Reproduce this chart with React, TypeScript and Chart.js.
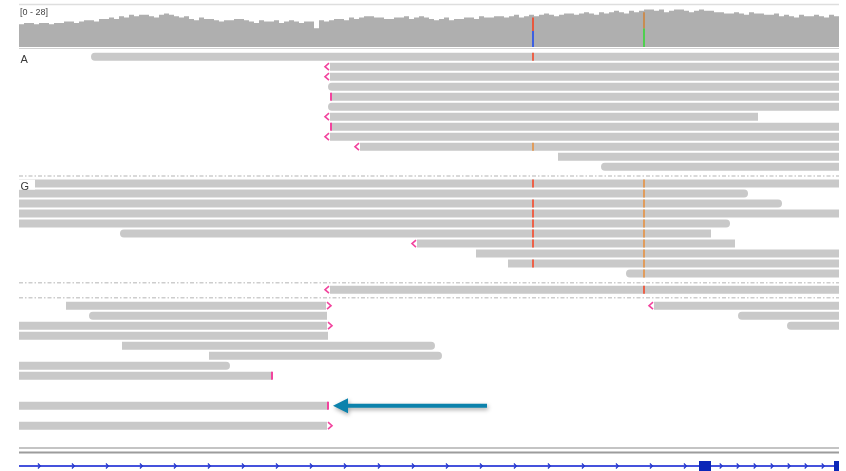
import React, { useEffect, useRef } from 'react';
import { Chart, registerables } from 'chart.js';

Chart.register(...registerables);

type Read = [number, number, number, string]; // row, start, end, rounded ends ('l' / 'r')
type Clip = [number, number, string]; // row, position, marker ('<' before, '>' after, '|' at)
type Mismatch = [number, number, string]; // row, position, base

// Coverage depth per 5 bp bin, from position 0
const coverageBin = 5;
const coverageDepth = [
  17, 18, 18, 17, 18, 18, 17, 18, 18, 19, 19, 18, 19, 20, 20, 19, 21, 21, 22, 21,
  23, 22, 24, 23, 24, 24, 23, 22, 24, 25, 24, 23, 22, 23, 21, 20, 22, 21, 21, 20,
  19, 20, 20, 21, 21, 20, 19, 18, 20, 19, 19, 20, 18, 19, 20, 19, 18, 19, 19, 14,
  20, 19, 20, 21, 21, 20, 22, 21, 22, 23, 23, 22, 22, 21, 21, 22, 22, 23, 21, 22,
  23, 22, 21, 20, 21, 22, 20, 21, 21, 22, 22, 21, 23, 22, 22, 23, 23, 22, 23, 24,
  22, 23, 24, 23, 24, 25, 24, 23, 24, 25, 25, 24, 25, 26, 25, 24, 26, 25, 26, 27,
  26, 25, 27, 26, 27, 28, 28, 27, 28, 26, 27, 28, 28, 27, 26, 27, 28, 27, 27, 26,
  26, 25, 25, 26, 25, 24, 26, 25, 25, 24, 24, 25, 23, 24, 23, 22, 24, 23, 23, 24,
  23, 22, 24, 23,
];
const coverageRange = '[0 - 28]';

// Allele counts at the two variant sites
const alleleCounts: [number, string, number][] = [
  [514, 'C', 12], [514, 'T', 10],
  [625, 'A', 14], [625, 'G', 12],
];

const readsA: Read[] = [
  [0, 72, 820, 'l'], [1, 311, 820, ''], [2, 311, 820, ''], [3, 309, 820, 'l'],
  [4, 312, 820, ''], [5, 309, 820, 'l'], [6, 311, 739, ''], [7, 312, 820, ''],
  [8, 311, 820, ''], [9, 341, 820, ''], [10, 539, 820, ''], [11, 582, 820, 'l'],
];
const clipsA: Clip[] = [[1, 311, '<'], [2, 311, '<'], [4, 312, '|'], [6, 311, '<'], [7, 312, '|'], [8, 311, '<'], [9, 341, '<']];
const mismatchesA: Mismatch[] = [[0, 514, 'T'], [9, 514, 'G']];

const readsG: Read[] = [
  [0, 0, 820, ''], [1, 0, 729, 'r'], [2, 0, 763, 'r'], [3, 0, 820, ''], [4, 0, 711, 'r'],
  [5, 101, 692, 'l'], [6, 398, 716, ''], [7, 457, 820, ''], [8, 489, 820, ''], [9, 607, 820, 'l'],
];
const clipsG: Clip[] = [[6, 398, '<']];
const mismatchesG: Mismatch[] = [
  [0, 514, 'T'], [2, 514, 'T'], [3, 514, 'T'], [4, 514, 'T'], [5, 514, 'T'], [6, 514, 'T'], [8, 514, 'T'],
  [0, 625, 'G'], [1, 625, 'G'], [2, 625, 'G'], [3, 625, 'G'], [4, 625, 'G'],
  [5, 625, 'G'], [6, 625, 'G'], [7, 625, 'G'], [8, 625, 'G'], [9, 625, 'G'],
];

const readsM: Read[] = [[0, 311, 820, '']];
const clipsM: Clip[] = [[0, 311, '<']];
const mismatchesM: Mismatch[] = [[0, 625, 'T']];

const readsC: Read[] = [
  [0, 47, 307, ''], [0, 635, 820, ''], [1, 70, 308, 'l'], [1, 719, 820, 'l'],
  [2, 0, 308, ''], [2, 768, 820, 'l'], [3, 0, 309, ''], [4, 103, 416, 'r'],
  [5, 190, 423, 'r'], [6, 0, 211, 'r'], [7, 0, 253, ''], [10, 0, 309, ''], [12, 0, 308, ''],
];
const clipsC: Clip[] = [[0, 307, '>'], [0, 635, '<'], [2, 308, '>'], [7, 253, '|'], [10, 309, '|'], [12, 308, '>']];
const mismatchesC: Mismatch[] = [];

// Gene model: exons and introns (with strand-arrow spacing)
const geneExons: [number, number][] = [[680, 692], [815, 826]];
const geneIntrons: [number, number, number][] = [[0, 680, 34], [692, 815, 17]];

// Callout pointing at the clipped read end
const callout = { group: 'C', row: 10, tip: 314, tail: 468 };

const groups = [
  { key: 'A', label: 'A', reads: readsA, clips: clipsA, mismatches: mismatchesA },
  { key: 'G', label: 'G', reads: readsG, clips: clipsG, mismatches: mismatchesG },
  { key: 'M', label: '', reads: readsM, clips: clipsM, mismatches: mismatchesM },
  { key: 'C', label: '', reads: readsC, clips: clipsC, mismatches: mismatchesC },
];

// Track layout, in read-row units
const groupTop: Record<string, number> = { A: 5.67, G: 18.36, M: 28.97, C: 30.57 };
const separators = [17.6, 28.27, 29.77];
const rulers = [44.8, 45.25];
const geneRow = 46.6;
const VIEW_END = 820;

const FONT = '"Liberation Sans", Arial, sans-serif';
const READ_GRAY = '#c9c9c9';
const COVER_GRAY = '#afafaf';
const CLIP_PINK = '#f2449e';
const baseColors: Record<string, string> = { A: '#4fcf4f', C: '#3d5fe0', G: '#c98c52', T: '#e8583e' };
const readBaseColors: Record<string, string> = { A: '#5fd45f', C: '#5070e0', G: '#e09c5c', T: '#ec6148' };

const decor = {
  id: 'alignmentDecor',
  beforeDatasetsDraw(chart: any) {
    const { ctx, chartArea: a, scales } = chart;
    const base = scales.yCov.getPixelForValue(0);
    ctx.save();
    ctx.strokeStyle = '#dedede';
    ctx.lineWidth = 1.5;
    ctx.beginPath();
    ctx.moveTo(a.left, 4.5);
    ctx.lineTo(a.right, 4.5);
    ctx.stroke();
    ctx.strokeStyle = '#d2d2d2';
    ctx.lineWidth = 1;
    ctx.beginPath();
    ctx.moveTo(a.left, Math.round(base) + 1.5);
    ctx.lineTo(a.right, Math.round(base) + 1.5);
    ctx.stroke();
    ctx.restore();
  },
  afterDatasetsDraw(chart: any) {
    const { ctx, chartArea: a, scales } = chart;
    const x = scales.x;
    const y = scales.y;
    ctx.save();

    // group separators
    ctx.strokeStyle = '#cdcdcd';
    ctx.lineWidth = 1.5;
    ctx.setLineDash([4, 2, 1.5, 2]);
    separators.forEach((s) => {
      const py = y.getPixelForValue(s);
      ctx.beginPath();
      ctx.moveTo(a.left, py);
      ctx.lineTo(a.right, py);
      ctx.stroke();
    });
    ctx.setLineDash([]);

    // soft-clip markers
    ctx.strokeStyle = CLIP_PINK;
    ctx.fillStyle = CLIP_PINK;
    ctx.lineWidth = 1.6;
    groups.forEach((g) => {
      g.clips.forEach(([row, pos, kind]) => {
        const px = x.getPixelForValue(pos);
        const py = y.getPixelForValue(groupTop[g.key] + row);
        if (kind === '|') {
          ctx.fillRect(px - 1, py - 4, 2, 8);
        } else {
          const d = kind === '<' ? -1 : 1;
          ctx.beginPath();
          ctx.moveTo(px + d * 1, py - 3.5);
          ctx.lineTo(px + d * 5, py);
          ctx.lineTo(px + d * 1, py + 3.5);
          ctx.stroke();
        }
      });
    });

    // group labels
    ctx.font = `11px ${FONT}`;
    ctx.textBaseline = 'middle';
    groups.forEach((g) => {
      if (!g.label) return;
      const py = y.getPixelForValue(groupTop[g.key]);
      ctx.fillStyle = '#ffffff';
      ctx.fillRect(a.left, py - 4, 16, 10);
      ctx.fillStyle = '#3a3a3a';
      ctx.fillText(g.label, a.left + 1.5, py + 3);
    });

    // coverage range
    ctx.font = `9px ${FONT}`;
    ctx.fillStyle = '#444444';
    ctx.fillText(coverageRange, a.left + 1, 12.5);

    // rulers above the gene track
    rulers.forEach((r, i) => {
      const py = y.getPixelForValue(r);
      ctx.strokeStyle = i === 0 ? '#8a8a8a' : '#9c9c9c';
      ctx.lineWidth = i === 0 ? 1.2 : 2;
      ctx.beginPath();
      ctx.moveTo(a.left, py);
      ctx.lineTo(a.right, py);
      ctx.stroke();
    });

    // strand arrows along introns
    const gy = y.getPixelForValue(geneRow);
    ctx.strokeStyle = '#2436cc';
    ctx.lineWidth = 1.2;
    geneIntrons.forEach(([s, e, step]) => {
      for (let p = s + step * 0.6; p < e - 2; p += step) {
        const px = x.getPixelForValue(p);
        ctx.beginPath();
        ctx.moveTo(px - 1.5, gy - 2.5);
        ctx.lineTo(px + 1, gy);
        ctx.lineTo(px - 1.5, gy + 2.5);
        ctx.stroke();
      }
    });

    // callout arrow
    const ay = y.getPixelForValue(groupTop[callout.group] + callout.row);
    const tip = x.getPixelForValue(callout.tip);
    const tail = x.getPixelForValue(callout.tail);
    ctx.shadowColor = 'rgba(0,0,0,0.35)';
    ctx.shadowBlur = 4;
    ctx.shadowOffsetX = 1;
    ctx.shadowOffsetY = 2;
    ctx.fillStyle = '#0c82ac';
    ctx.beginPath();
    ctx.moveTo(tip, ay);
    ctx.lineTo(tip + 15, ay - 7.5);
    ctx.lineTo(tip + 15, ay - 2);
    ctx.lineTo(tail, ay - 2);
    ctx.lineTo(tail, ay + 2);
    ctx.lineTo(tip + 15, ay + 2);
    ctx.lineTo(tip + 15, ay + 7.5);
    ctx.closePath();
    ctx.fill();

    ctx.restore();
  },
};

export default function App() {
  const canvasRef = useRef<HTMLCanvasElement | null>(null);

  useEffect(() => {
    const canvas = canvasRef.current;
    if (!canvas) return;

    const coveragePoints = coverageDepth.map((v, i) => ({ x: i * coverageBin, y: v }));
    coveragePoints.push({ x: coverageDepth.length * coverageBin, y: coverageDepth[coverageDepth.length - 1] });

    const cum: Record<number, number> = {};
    const alleleBars = alleleCounts.map(([pos, base, n]) => {
      const from = cum[pos] || 0;
      cum[pos] = from + n;
      return { x: pos, y: [from, from + n], base };
    });

    const readBars = groups.flatMap((g) =>
      g.reads.map(([row, s, e, ends]) => ({ x: [s, e], y: groupTop[g.key] + row, ends }))
    );
    const mismatchBars = groups.flatMap((g) =>
      g.mismatches.map(([row, pos, base]) => ({ x: [pos - 1, pos + 1], y: groupTop[g.key] + row, base }))
    );

    const chart = new Chart(canvas, {
      type: 'bar',
      data: {
        datasets: [
          {
            type: 'line',
            indexAxis: 'x',
            xAxisID: 'x',
            yAxisID: 'yCov',
            data: coveragePoints,
            stepped: 'before',
            fill: 'origin',
            backgroundColor: COVER_GRAY,
            borderWidth: 0,
            pointRadius: 0,
            order: 6,
          } as any,
          {
            type: 'bar',
            indexAxis: 'x',
            xAxisID: 'x',
            yAxisID: 'yCov',
            data: alleleBars,
            grouped: false,
            barThickness: 2,
            inflateAmount: 0,
            borderSkipped: false,
            backgroundColor: (c: any) => baseColors[c.raw?.base] || COVER_GRAY,
            order: 5,
          } as any,
          {
            type: 'bar',
            indexAxis: 'y',
            xAxisID: 'x',
            yAxisID: 'y',
            data: readBars,
            grouped: false,
            barThickness: 8,
            inflateAmount: 0,
            borderSkipped: false,
            backgroundColor: READ_GRAY,
            borderRadius: (c: any) => {
              const e: string = c.raw?.ends || '';
              const l = e.includes('l') ? 4 : 0;
              const r = e.includes('r') ? 4 : 0;
              return { topLeft: l, bottomLeft: l, topRight: r, bottomRight: r };
            },
            order: 4,
          } as any,
          {
            type: 'bar',
            indexAxis: 'y',
            xAxisID: 'x',
            yAxisID: 'y',
            data: mismatchBars,
            grouped: false,
            barThickness: 8,
            inflateAmount: 0,
            borderSkipped: false,
            backgroundColor: (c: any) => readBaseColors[c.raw?.base] || READ_GRAY,
            order: 1,
          } as any,
          {
            type: 'bar',
            indexAxis: 'y',
            xAxisID: 'x',
            yAxisID: 'y',
            data: [{ x: [0, VIEW_END], y: geneRow }],
            grouped: false,
            barThickness: 2,
            inflateAmount: 0,
            borderSkipped: false,
            backgroundColor: '#4552dc',
            order: 3,
          } as any,
          {
            type: 'bar',
            indexAxis: 'y',
            xAxisID: 'x',
            yAxisID: 'y',
            data: geneExons.map(([s, e]) => ({ x: [s, e], y: geneRow })),
            grouped: false,
            barThickness: 10,
            inflateAmount: 0,
            borderSkipped: false,
            backgroundColor: '#0b27b8',
            order: 2,
          } as any,
        ],
      },
      options: {
        indexAxis: 'y',
        responsive: false,
        animation: false,
        events: [],
        layout: { padding: { left: 19, right: 7, top: 0, bottom: 0 } },
        plugins: { legend: { display: false }, tooltip: { enabled: false } },
        scales: {
          x: { type: 'linear', axis: 'x', position: 'bottom', min: 0, max: VIEW_END, display: false, offset: false },
          y: { type: 'linear', axis: 'y', position: 'left', min: 0, max: 47.1, reverse: true, display: false, offset: false },
          yCov: { type: 'linear', axis: 'y', position: 'left', min: -316.05, max: 35.08, display: false, offset: false },
        },
      } as any,
      plugins: [decor],
    });

    return () => chart.destroy();
  }, []);

  return (
    <div style={{ position: 'fixed', left: 0, top: 0, width: 846, height: 471, background: '#ffffff' }}>
      <canvas ref={canvasRef} width={846} height={471} />
    </div>
  );
}
